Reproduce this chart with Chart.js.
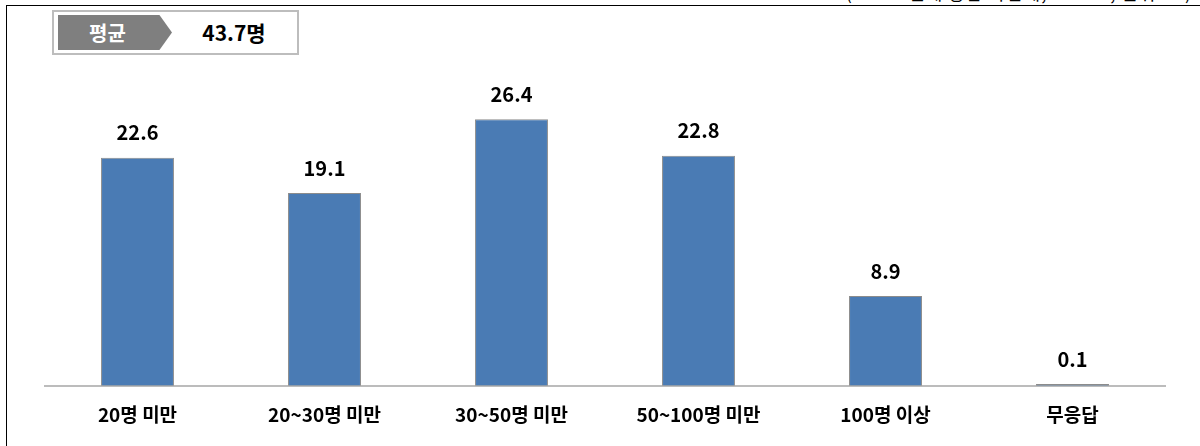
<!DOCTYPE html>
<html>
<head>
<meta charset="utf-8">
<script src="https://cdn.jsdelivr.net/npm/chart.js@4"></script>
<style>
  body { margin: 0; background: #fff; font-family: "Noto Sans CJK KR", sans-serif; }
  #wrap { position: relative; width: 1200px; height: 446px; overflow: hidden; }
  #frame { position: absolute; left: 6px; top: 5px; width: 1200px; height: 460px;
           border-left: 1.5px solid #000; border-top: 1.5px solid #000; }
  #note { position: absolute; right: 8px; top: -21px; font-size: 18px; color: #000; white-space: nowrap; letter-spacing: 1px; }
  #avgBox { position: absolute; left: 52px; top: 10px; width: 243px; height: 41px;
            border: 2px solid #bdbdbd; background: #fff; }
  #avgTag { position: absolute; left: 4px; top: 3px; width: 114px; height: 35px; background: #7f7f7f;
            clip-path: polygon(0 0, 89% 0, 100% 50%, 89% 100%, 0 100%);
            color: #fff; font-weight: bold; font-size: 20px; line-height: 35px; text-indent: 31px; }
  #avgVal { position: absolute; left: 118px; top: 3px; width: 124px; height: 35px; text-align: center;
            font-weight: bold; font-size: 21px; line-height: 35px; color: #000; }
  canvas { position: absolute; left: 0; top: 0; }
</style>
</head>
<body>
<div id="wrap">
  <div id="frame"></div>
  <div id="note">(Base:  전체 응답 사업체,  N=000,  단위:  %)</div>
  <div id="avgBox">
    <div id="avgTag">평균</div>
    <div id="avgVal">43.7명</div>
  </div>
  <canvas id="chart" width="1200" height="446"></canvas>
</div>
<script>
const categories = ["20명 미만", "20~30명 미만", "30~50명 미만", "50~100명 미만", "100명 이상", "무응답"];
const values = [22.6, 19.1, 26.4, 22.8, 8.9, 0.1];

const labelPlugin = {
  id: "valueLabels",
  afterDatasetsDraw(chart) {
    const ctx = chart.ctx;
    const meta = chart.getDatasetMeta(0);
    ctx.save();
    ctx.font = "bold 20px 'Noto Sans CJK KR', sans-serif";
    ctx.fillStyle = "#000";
    ctx.textAlign = "center";
    ctx.textBaseline = "middle";
    meta.data.forEach((bar, i) => {
      ctx.fillText(values[i].toFixed(1), bar.x, bar.y - 25);
    });
    ctx.restore();
  }
};

const baselinePlugin = {
  id: "baseline",
  afterDatasetsDraw(chart) {
    const { ctx, chartArea } = chart;
    const y = chart.scales.y.getPixelForValue(0);
    ctx.save();
    ctx.strokeStyle = "#a6a6a6";
    ctx.lineWidth = 1.5;
    ctx.beginPath();
    ctx.moveTo(chartArea.left, y);
    ctx.lineTo(chartArea.right, y);
    ctx.stroke();
    ctx.restore();
  }
};

new Chart(document.getElementById("chart"), {
  type: "bar",
  data: {
    labels: categories,
    datasets: [{
      data: values,
      backgroundColor: "#4a7bb4",
      borderColor: "#8c8c8c",
      borderWidth: { left: 1, right: 1, top: 1, bottom: 0 },
      categoryPercentage: 1,
      barPercentage: 0.39,
      minBarLength: 2
    }]
  },
  options: {
    responsive: false,
    animation: false,
    layout: { padding: { left: 44, right: 34, top: 83, bottom: 0 } },
    plugins: { legend: { display: false }, tooltip: { enabled: false } },
    scales: {
      x: {
        grid: { display: false },
        border: { display: false },
        ticks: {
          color: "#000",
          font: { family: "'Noto Sans CJK KR', sans-serif", size: 19, weight: "bold" },
          padding: 9,
          maxRotation: 0
        },
        afterFit(scale) { scale.height = 60; }
      },
      y: {
        display: false,
        min: 0,
        max: 30
      }
    }
  },
  plugins: [labelPlugin, baselinePlugin]
});
</script>
</body>
</html>
